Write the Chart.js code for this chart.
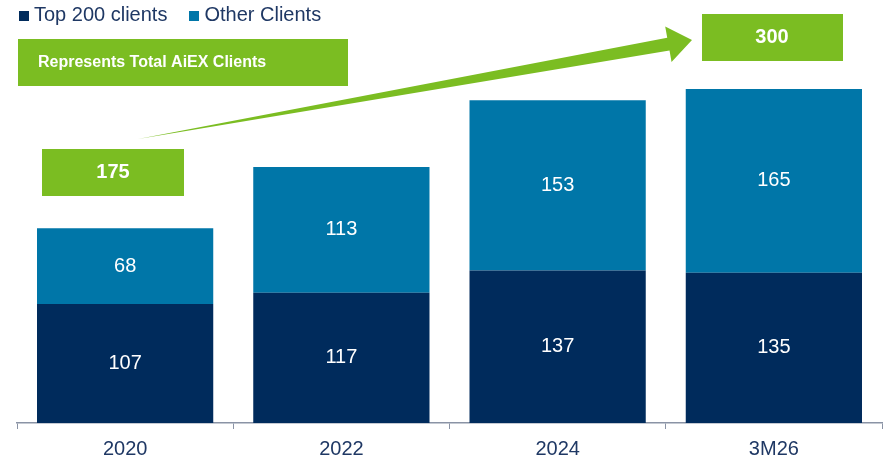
<!DOCTYPE html>
<html>
<head>
<meta charset="utf-8">
<script src="https://cdn.jsdelivr.net/npm/chart.js@4"></script>
<style>
    body { margin: 0; background: #fff; font-family: 'Liberation Sans', Arial, sans-serif; overflow: hidden; }
    #wrap { position: relative; width: 886px; height: 465px; overflow: hidden; }
    .legend { position: absolute; top: 3px; left: 19px; font-size: 20px; color: #1F3864; display: flex; gap: 22px; }
    .legend span { display: inline-block; width: 10px; height: 10px; margin-right: 5px; }
</style>
</head>
<body>
<div id="wrap">
    <canvas id="clientsChart" width="886" height="469"></canvas>
    <div class="legend">
        <div><span style="background:#002B5C"></span>Top 200 clients</div>
        <div><span style="background:#0076A8"></span>Other Clients</div>
    </div>
</div>
<script>
const categories = ['2020', '2022', '2024', '3M26'];
const top200 = [107, 117, 137, 135];
const otherClients = [68, 113, 153, 165];
const totalFirst = '175';
const totalLast = '300';
const calloutText = 'Represents Total AiEX Clients';

const GREEN = '#7BBD22';

// value labels inside each stack segment
const segmentLabels = {
    id: 'segmentLabels',
    afterDatasetsDraw(chart) {
        const ctx = chart.ctx;
        ctx.save();
        ctx.fillStyle = '#fff';
        ctx.font = '20px "Liberation Sans", Arial, sans-serif';
        ctx.textAlign = 'center';
        ctx.textBaseline = 'middle';
        chart.data.datasets.forEach((ds, i) => {
            chart.getDatasetMeta(i).data.forEach((bar, j) => {
                const mid = (bar.y + bar.base) / 2;
                ctx.fillText(ds.data[j], bar.x, mid);
            });
        });
        ctx.restore();
    }
};

// green callouts and arrow
const callouts = {
    id: 'callouts',
    afterDraw(chart) {
        const ctx = chart.ctx;
        ctx.save();
        ctx.fillStyle = GREEN;

        // arrow: tapered shaft + head
        const sx = 138, sy = 139, tx = 692, ty = 40;
        const len = Math.hypot(tx - sx, ty - sy);
        const ux = (tx - sx) / len, uy = (ty - sy) / len;
        const nx = -uy, ny = ux;
        const headLen = 24, headHalf = 18, shaftHalf = 6.5;
        const bx = tx - ux * headLen, by = ty - uy * headLen;
        ctx.beginPath();
        ctx.moveTo(sx, sy);
        ctx.lineTo(bx + nx * shaftHalf, by + ny * shaftHalf);
        ctx.lineTo(bx + nx * headHalf, by + ny * headHalf);
        ctx.lineTo(tx, ty);
        ctx.lineTo(bx - nx * headHalf, by - ny * headHalf);
        ctx.lineTo(bx - nx * shaftHalf, by - ny * shaftHalf);
        ctx.closePath();
        ctx.fill();

        ctx.fillRect(18, 39, 330, 47);
        ctx.fillRect(42, 149, 142, 47);
        ctx.fillRect(702, 14, 141, 47);

        ctx.fillStyle = '#fff';
        ctx.textBaseline = 'middle';
        ctx.textAlign = 'left';
        ctx.font = 'bold 16px "Liberation Sans", Arial, sans-serif';
        ctx.fillText(calloutText, 38, 63);
        ctx.textAlign = 'center';
        ctx.font = 'bold 20px "Liberation Sans", Arial, sans-serif';
        ctx.fillText(totalFirst, 113, 172);
        ctx.fillText(totalLast, 772, 37);
        ctx.restore();
    }
};

new Chart(document.getElementById('clientsChart'), {
    type: 'bar',
    data: {
        labels: categories,
        datasets: [
            { label: 'Top 200 clients', data: top200, backgroundColor: '#002B5C' },
            { label: 'Other Clients', data: otherClients, backgroundColor: '#0076A8' }
        ]
    },
    options: {
        responsive: false,
        animation: false,
        layout: { padding: { left: 17, right: 4, top: 0, bottom: 0 } },
        datasets: { bar: { barPercentage: 0.815, categoryPercentage: 1 } },
        plugins: { legend: { display: false }, tooltip: { enabled: false } },
        scales: {
            x: {
                stacked: true,
                grid: { display: true, drawOnChartArea: false, offset: true, color: '#8A93A5', tickLength: 6 },
                border: { color: '#8A93A5', width: 1.5 },
                ticks: { color: '#1F3864', font: { size: 20, family: '"Liberation Sans", Arial, sans-serif' }, padding: 8 }
            },
            y: {
                stacked: true,
                display: false,
                min: 0,
                max: 380
            }
        }
    },
    plugins: [segmentLabels, callouts]
});
</script>
</body>
</html>
